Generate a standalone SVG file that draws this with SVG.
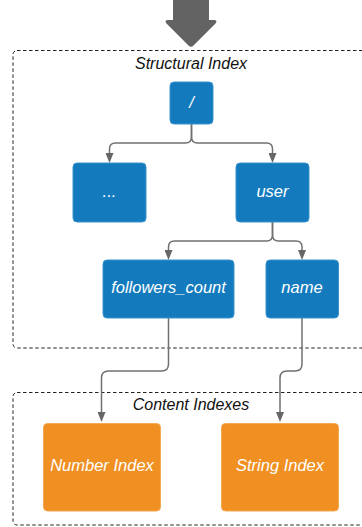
<svg xmlns="http://www.w3.org/2000/svg" width="362" height="527" viewBox="0 0 362 527">
  <style>
    .group { fill: none; stroke: #222222; stroke-width: 1; stroke-dasharray: 3.5 2.5; }
    .glabel { font-family: "Liberation Sans", Arial, sans-serif; font-style: italic; font-size: 16px; fill: #111111; text-anchor: middle; }
    .blue { fill: #137bbd; stroke: #3d93cc; stroke-width: 1; }
    .orange { fill: #f08f22; stroke: #f5a850; stroke-width: 1; }
    .ntext { font-family: "Liberation Sans", Arial, sans-serif; font-style: italic; font-size: 16.5px; fill: #ffffff; text-anchor: middle; }
    .edge { fill: none; stroke: #707070; stroke-width: 1.5; marker-end: url(#arrow); }
  </style>
  <defs>
    <marker id="arrow" markerUnits="userSpaceOnUse" viewBox="0 0 10 8" refX="0" refY="4" markerWidth="10" markerHeight="8" orient="auto">
      <path d="M0,0 L10,4 L0,8 z" fill="#666666"/>
    </marker>
  </defs>

  <!-- incoming block arrow -->
  <path id="entry" d="M173,0 H209 V20 H214 Q218,20 215.5,23.5 L193.5,45.5 Q191,48 188.5,45.5 L166.5,23.5 Q164,20 168,20 H173 Z" fill="#636363"/>

  <!-- grouping frames -->
  <g id="structural-index">
    <rect class="group" x="13" y="50.5" width="360" height="297.5" rx="4"/>
    <text class="glabel" x="191" y="69">Structural Index</text>
  </g>
  <g id="content-indexes">
    <rect class="group" x="13" y="392.5" width="360" height="132.5" rx="4"/>
    <text class="glabel" x="191" y="410">Content Indexes</text>
  </g>

  <!-- connectors -->
  <g id="connectors">
    <path class="edge" d="M191.5,124 V137 Q191.5,143 185.5,143 H115.5 Q109.5,143 109.5,149 V153"/>
    <path class="edge" d="M191.5,124 V137 Q191.5,143 197.5,143 H266.5 Q272.5,143 272.5,149 V153"/>
    <path class="edge" d="M272.5,222 V235 Q272.5,241 266.5,241 H174.5 Q168.5,241 168.5,247 V250"/>
    <path class="edge" d="M272.5,222 V235 Q272.5,241 278.5,241 H296 Q302,241 302,247 V250"/>
    <path class="edge" d="M168.5,318 V364 Q168.5,371 161.5,371 H108.5 Q101.5,371 101.5,378 V412"/>
    <path class="edge" d="M302,318 V364 Q302,371 295,371 H287 Q280,371 280,378 V412"/>
  </g>

  <!-- nodes -->
  <g id="root">
    <rect class="blue" x="170" y="82" width="43" height="42" rx="4"/>
    <text class="ntext" x="191.5" y="107.5">/</text>
  </g>
  <g id="other">
    <rect class="blue" x="73" y="163" width="73" height="59" rx="4"/>
    <text class="ntext" x="109.5" y="197">...</text>
  </g>
  <g id="user">
    <rect class="blue" x="236" y="163" width="73" height="59" rx="4"/>
    <text class="ntext" x="272.5" y="196.5">user</text>
  </g>
  <g id="followers-count">
    <rect class="blue" x="103" y="260" width="131" height="58" rx="4"/>
    <text class="ntext" x="168.5" y="292.5">followers_count</text>
  </g>
  <g id="name">
    <rect class="blue" x="266" y="260" width="72.5" height="58" rx="4"/>
    <text class="ntext" x="302" y="292.5">name</text>
  </g>
  <g id="number-index">
    <rect class="orange" x="43.5" y="423.5" width="117" height="87.5" rx="4"/>
    <text class="ntext" x="102" y="471">Number Index</text>
  </g>
  <g id="string-index">
    <rect class="orange" x="221.5" y="423.5" width="117" height="87.5" rx="4"/>
    <text class="ntext" x="280" y="471">String Index</text>
  </g>
</svg>
